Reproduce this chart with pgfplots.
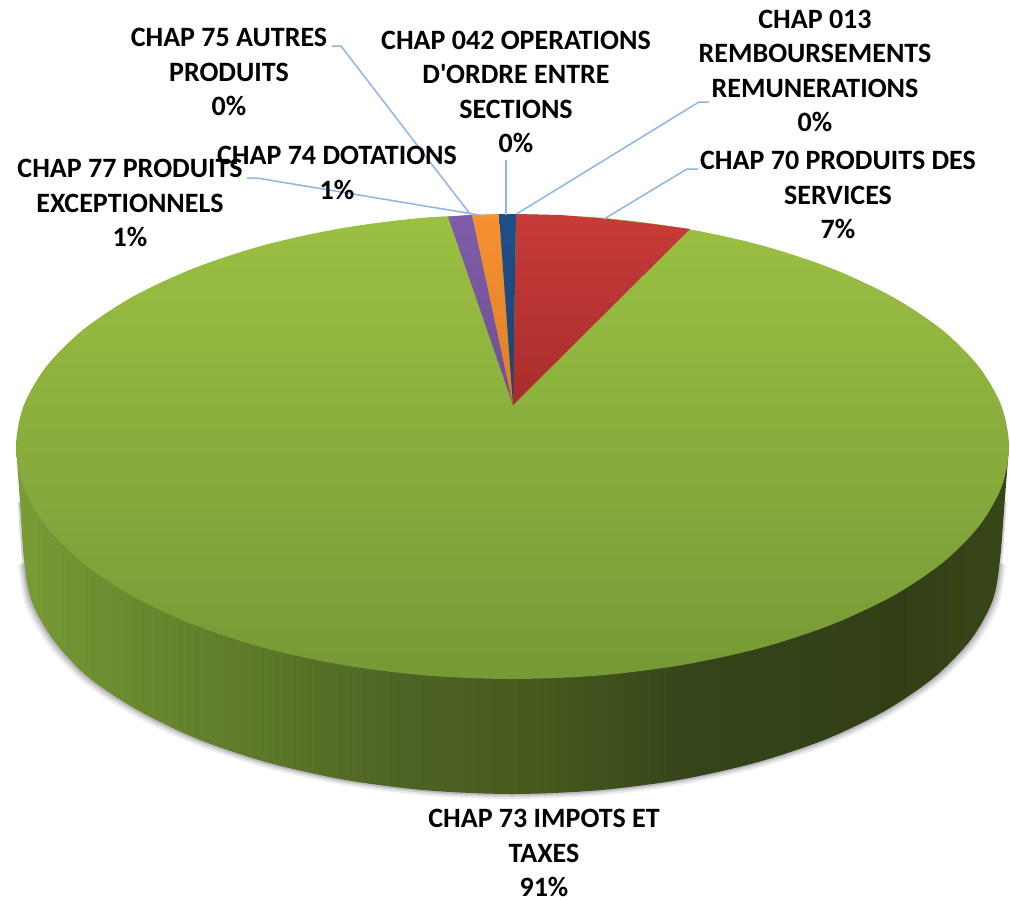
\documentclass[border=0pt]{standalone}
\usepackage{fontspec}
\newfontfamily\lblfont{Carlito}
\usepackage{pgfplots}
\usepackage{pgfplotstable}
\pgfplotsset{compat=1.18}

\definecolor{leader}{HTML}{8DB6E6}
\definecolor{shadowc}{RGB}{120,120,130}
\definecolor{wa}{RGB}{122,156,56}
\definecolor{wb}{RGB}{109,142,48}
\definecolor{wc}{RGB}{94,122,42}
\definecolor{wd}{RGB}{78,100,35}
\definecolor{we}{RGB}{72,92,31}
\definecolor{wf}{RGB}{62,79,28}
\definecolor{wg}{RGB}{53,68,26}
\definecolor{wh}{RGB}{50,63,22}
\definecolor{wi}{RGB}{56,71,24}
\definecolor{greentop}{RGB}{155,192,67}
\definecolor{greenbot}{RGB}{119,153,54}
\definecolor{redtop}{RGB}{199,59,56}
\definecolor{redbot}{RGB}{168,45,45}
\definecolor{purtop}{RGB}{127,92,169}
\definecolor{purbot}{RGB}{110,79,150}
\definecolor{oratop}{RGB}{247,145,49}
\definecolor{orabot}{RGB}{220,127,39}
\definecolor{blutop}{RGB}{31,79,136}
\definecolor{blubot}{RGB}{28,68,112}

% side wall, dark towards the right
\pgfdeclarehorizontalshading{wallshade}{100bp}{
  color(0bp)=(wa);
  color(25bp)=(wa);
  color(29.2bp)=(wb);
  color(36.8bp)=(wc);
  color(44.3bp)=(wd);
  color(50bp)=(we);
  color(55.4bp)=(wf);
  color(59.4bp)=(wg);
  color(69.5bp)=(wh);
  color(75bp)=(wi);
  color(100bp)=(wi)}

\tikzset{lbl/.style={font=\lblfont\fontsize{28}{34.4}\selectfont\bfseries, align=center, inner sep=0pt, text=black}}

% outline of the top face (px of the reference, y downwards)
\pgfplotstableread{
x y
512.5 214
598.7 217.5
682.3 228
760.8 245.1
831.6 268.4
892.8 297
942.5 330.2
979.1 367
1001.5 406.1
1009 446.5
1001.5 486.9
979.1 526
942.5 562.8
892.8 596
831.6 624.6
760.8 647.9
682.3 665
598.7 675.5
512.5 679
426.3 675.5
342.7 665
264.2 647.9
193.4 624.6
132.2 596
82.5 562.8
45.9 526
23.5 486.9
16 446.5
23.5 406.1
45.9 367
82.5 330.2
132.2 297
193.4 268.4
264.2 245.1
342.7 228
426.3 217.5
512.5 214
}\topface

% lower outline of the side wall
\pgfplotstableread{
x y
1009 446.5
1004.8 500
1000 560
992.6 600.6
970.6 640
934.6 677
885.8 710.4
825.7 739.3
756 762.6
678.9 779.9
596.7 790.4
512 794
427.3 790.4
345.1 779.9
268 762.6
198.3 739.3
138.2 710.4
88 677
53.4 640
31.4 600.6
24 560
19.8 500
16 446.5
}\wall

\begin{document}
\begin{tikzpicture}
\begin{axis}[
    width=1010pt, height=900pt, scale only axis,
    xmin=0, xmax=1010, ymin=0, ymax=900,
    y dir=reverse,
    hide axis, clip=false,
    every axis plot/.append style={forget plot, mark=none},
]
% keeps the page at the full 1010x900
\path (axis cs:0,0) rectangle (axis cs:1010,900);
% soft shadow under the wall
\addplot[smooth, draw=none, fill=shadowc, fill opacity=.15, restrict y to domain=540:900]
    table[x expr={512+(\thisrow{x}-512)*1.012}, y expr={\thisrow{y}+5}] {\wall};
\addplot[smooth, draw=none, fill=shadowc, fill opacity=.2, restrict y to domain=540:900]
    table[x expr={512+(\thisrow{x}-512)*1.008}, y expr={\thisrow{y}+3}] {\wall};
\addplot[smooth, draw=none, fill=shadowc, fill opacity=.3, restrict y to domain=495:900]
    table[x expr={512+(\thisrow{x}-512)*1.004}, y expr={\thisrow{y}+1.5}] {\wall};
% side wall and top face
\addplot[smooth, draw=none, shading=wallshade] table {\wall};
\addplot[smooth, draw=none, top color=greentop, bottom color=greenbot] table {\topface};
% small slices
\addplot[draw=none, top color=redtop, bottom color=redbot] coordinates {
    (513,405) (516,214) (560,215) (604,218.6) (648,223.5) (690,229) (513,405)};
\addplot[draw=none, top color=purtop, bottom color=purbot] coordinates {
    (513,405) (448,216.7) (472,214.8) (513,405)};
\addplot[draw=none, top color=oratop, bottom color=orabot] coordinates {
    (513,405) (472,214.8) (499,214.1) (513,405)};
\addplot[draw=none, top color=blutop, bottom color=blubot] coordinates {
    (513,405) (499,214.1) (516,214) (513,405)};
% leader lines
\addplot[leader, line width=1.5pt] coordinates {(332,46) (341,46) (470,214)};
\addplot[leader, line width=1.5pt] coordinates {(247,178) (257,178) (485,216)};
\addplot[leader, line width=1.5pt] coordinates {(506,160) (506,215)};
\addplot[leader, line width=1.5pt] coordinates {(709,102) (699,102) (516.5,214)};
\addplot[leader, line width=1.5pt] coordinates {(698,169) (687,169) (604,219)};
% data labels
\node[lbl] at (axis cs:229,72) {CHAP 75 AUTRES\\PRODUITS\\0\%};
\node[lbl] at (axis cs:516,92) {CHAP 042 OPERATIONS\\D'ORDRE ENTRE\\SECTIONS\\0\%};
\node[lbl] at (axis cs:815,71) {CHAP 013\\REMBOURSEMENTS\\REMUNERATIONS\\0\%};
\node[lbl] at (axis cs:838,195) {CHAP 70 PRODUITS DES\\SERVICES\\7\%};
\node[lbl] at (axis cs:130,203) {CHAP 77 PRODUITS\\EXCEPTIONNELS\\1\%};
\node[lbl] at (axis cs:337,173) {CHAP 74 DOTATIONS\\1\%};
\node[lbl] at (axis cs:544,853) {CHAP 73 IMPOTS ET\\TAXES\\91\%};
\end{axis}
\end{tikzpicture}
\end{document}
